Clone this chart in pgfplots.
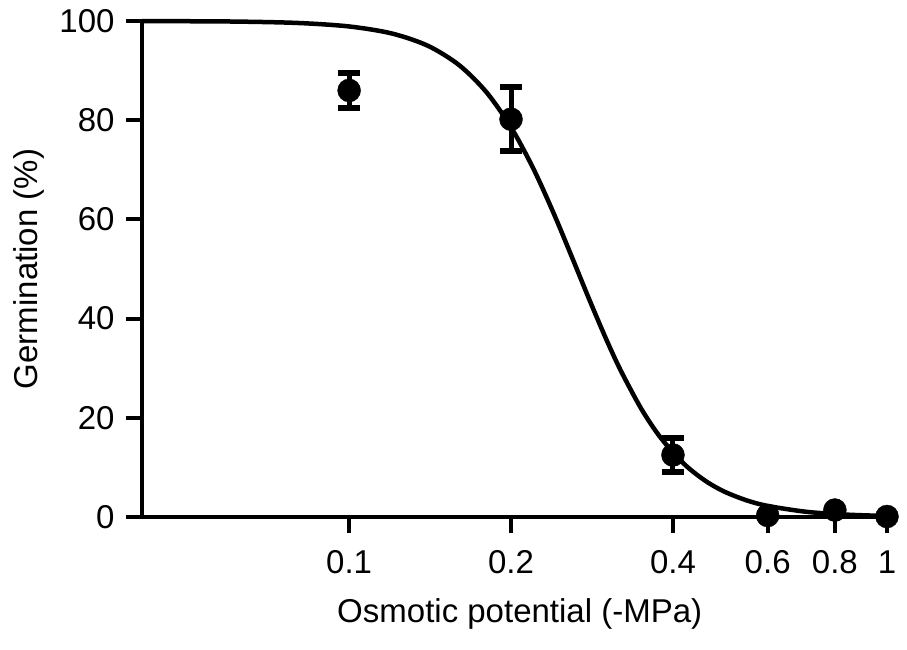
\documentclass[border=0pt]{standalone}
\usepackage{fontspec}
\setmainfont{Liberation Sans}
\usepackage{pgfplots}
\pgfplotsset{compat=1.18}
\begin{document}
\begin{tikzpicture}
\begin{axis}[
  at={(0,0)}, anchor=south west,
  scale only axis, width=745pt, height=496pt,
  xmode=log, xmin=0.0412, xmax=1, ymin=0, ymax=100,
  axis x line*=bottom, axis y line*=left,
  axis line style={line width=4pt, -},
  every tick/.style={line width=4pt, black},
  tick align=outside, major tick length=16pt,
  xminorticks=false,
  xtick={0.1,0.2,0.4,0.6,0.8,1}, xticklabels={0.1,0.2,0.4,0.6,0.8,1},
  ytick={0,20,40,60,80,100},
  /pgf/number format/assume math mode=true,
  ticklabel style={font=\fontsize{33}{40}\selectfont},
  xticklabel style={yshift=-14pt},
  yticklabel style={xshift=-8pt},
  label style={font=\fontsize{33}{40}\selectfont},
  xlabel={Osmotic potential (-MPa)}, ylabel={Germination (\%)},
  xlabel style={at={(axis description cs:0.507,-0.196)}, anchor=center},
  ylabel style={at={(axis description cs:-0.152,0.5)}, anchor=center},
  clip=false,
]
\addplot[smooth, line width=4.5pt, black, no marks] coordinates {
(0.0412,99.98) (0.06,99.90) (0.08,99.61) (0.1,98.90) (0.12,97.49) (0.14,95.02)
(0.16,91.14) (0.18,85.65) (0.2,78.58) (0.22,70.26) (0.24,61.25) (0.26,52.20)
(0.28,43.68) (0.30,36.06) (0.32,29.50) (0.35,21.66) (0.38,15.91) (0.42,10.65)
(0.46,7.26) (0.5,5.05) (0.55,3.31) (0.6,2.24) (0.7,1.11) (0.8,0.60)
(0.9,0.35) (1.0,0.22)
};
\addplot[only marks, mark=*, mark size=11.5pt, black,
  error bars/.cd, y dir=both, y explicit,
  error bar style={line width=5pt, black},
  error mark options={rotate=90, mark size=11pt, line width=6pt, black}]
coordinates {
(0.1,86.0) +- (0,3.5)
(0.2,80.2) +- (0,6.4)
(0.4,12.5) +- (0,3.5)
(0.6,0.3) +- (0,0)
(0.8,1.4) +- (0,0)
(1.0,0.1) +- (0,0)
};
\end{axis}
\pgfresetboundingbox
\path (-142pt,-132pt) rectangle (765pt,517pt);
\end{tikzpicture}
\end{document}
